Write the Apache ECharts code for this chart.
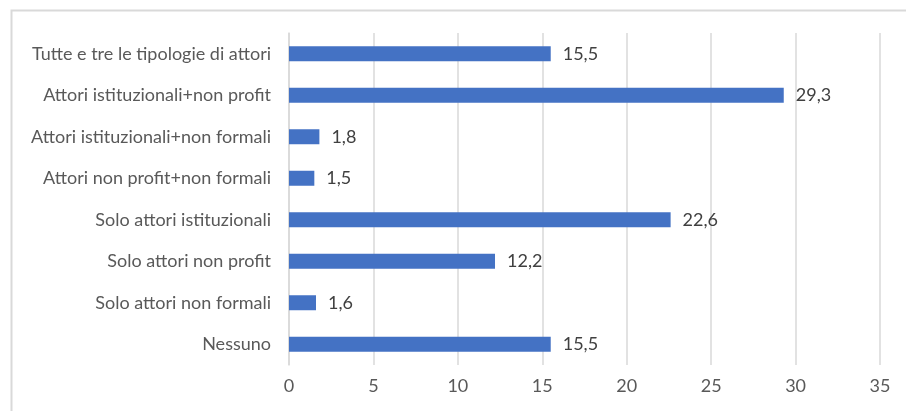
<!DOCTYPE html>
<html>
<head>
<meta charset="utf-8">
<script src="https://cdn.jsdelivr.net/npm/echarts@6/dist/echarts.min.js"></script>
<style>
  html, body { margin: 0; padding: 0; background: #ffffff; }
  #chart { width: 906px; height: 411px; }
</style>
</head>
<body>
<div id="chart"></div>
<script>
// Categories listed bottom-to-top (category axis on y starts at the bottom)
const categories = [
  'Nessuno',
  'Solo attori non formali',
  'Solo attori non profit',
  'Solo attori istituzionali',
  'Attori non profit+non formali',
  'Attori istituzionali+non formali',
  'Attori istituzionali+non profit',
  'Tutte e tre le tipologie di attori'
];
const values = [15.5, 1.6, 12.2, 22.6, 1.5, 1.8, 29.3, 15.5];
const axisMin = 0;
const axisMax = 35;
const axisStep = 5;

const FONT = 'Lato, "Open Sans", sans-serif';
const chart = echarts.init(document.getElementById('chart'), null, { renderer: 'canvas' });

chart.setOption({
  animation: false,
  backgroundColor: '#ffffff',
  graphic: [{
    type: 'rect',
    left: 9, top: 8,
    shape: { width: 1000, height: 500 },
    style: { fill: 'none', stroke: '#d9d9d9', lineWidth: 2 },
    silent: true, z: -1
  }],
  grid: { left: 289, right: 26, top: 33, bottom: 46, containLabel: false },
  xAxis: {
    type: 'value',
    min: axisMin, max: axisMax, interval: axisStep,
    axisLine: { show: false },
    axisTick: { show: false },
    splitLine: { show: true, lineStyle: { color: '#d9d9d9', width: 1.5 } },
    axisLabel: {
      color: '#595959', fontFamily: FONT, fontSize: 18, margin: 12
    }
  },
  yAxis: {
    type: 'category',
    data: categories,
    axisLine: { show: true, lineStyle: { color: '#d9d9d9', width: 1.5 } },
    axisTick: { show: false },
    axisLabel: {
      color: '#595959', fontFamily: FONT, fontSize: 18, margin: 18
    }
  },
  series: [{
    type: 'bar',
    data: values,
    barWidth: 15,
    itemStyle: { color: '#4472c4' },
    label: {
      show: true,
      position: 'right',
      distance: 12,
      color: '#404040',
      fontFamily: FONT,
      fontSize: 18,
      formatter: p => String(p.value).replace('.', ',')
    }
  }]
});
</script>
</body>
</html>
